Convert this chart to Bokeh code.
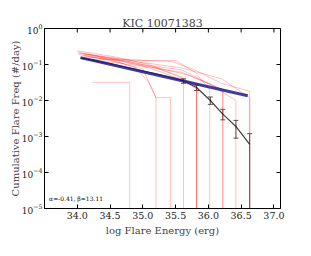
import math
from bokeh.plotting import figure
from bokeh.layouts import column
from bokeh.models import Range1d, FixedTicker, NumeralTickFormatter, Label, Whisker, ColumnDataSource, Spacer
from bokeh.embed import file_html
from bokeh.resources import INLINE

# ---- data ----
title_text = "KIC 10071383"
x_ticks = [34.0, 34.5, 35.0, 35.5, 36.0, 36.5, 37.0]
y_ticks = [1e-5, 1e-4, 1e-3, 1e-2, 1e-1, 1.0]
x_lim = [33.5, 37.1]
y_floor = 1e-5
y_top = 1.0

# individual-quarter cumulative FFDs (red), each drops to the floor at its last energy
red_x = [
    [34.02, 34.3, 34.6, 34.9, 35.1, 35.2],
    [34.23, 34.8],
    [34.02, 34.5, 35.0, 35.2, 35.42],
    [34.05, 34.5, 35.0, 35.3, 35.62],
    [34.0, 34.6, 35.1, 35.5, 35.82],
    [34.1, 34.6, 35.2, 35.6, 35.82],
    [34.1, 34.5, 35.0, 35.6, 35.82],
    [34.0, 34.7, 35.0, 35.5, 35.8, 36.02],
    [34.1, 34.6, 35.0, 35.6, 36.0, 36.22],
    [34.2, 34.8, 35.3, 35.7, 36.22],
    [34.05, 35.0, 35.6, 36.0, 36.42],
    [34.1, 34.9, 35.6, 36.2, 36.63],
    [34.23, 35.0, 35.45, 35.8, 36.2, 36.63],
]
red_y = [
    [0.22, 0.17, 0.12, 0.08, 0.03, 0.012],
    [0.032, 0.032],
    [0.19, 0.13, 0.075, 0.012, 0.012],
    [0.20, 0.15, 0.09, 0.06, 0.035],
    [0.24, 0.16, 0.10, 0.05, 0.025],
    [0.17, 0.13, 0.08, 0.045, 0.02],
    [0.15, 0.11, 0.065, 0.04, 0.03],
    [0.21, 0.14, 0.13, 0.13, 0.06, 0.02],
    [0.18, 0.14, 0.10, 0.07, 0.03, 0.02],
    [0.16, 0.12, 0.075, 0.05, 0.02],
    [0.15, 0.09, 0.06, 0.03, 0.01],
    [0.20, 0.12, 0.08, 0.04, 0.012],
    [0.14, 0.13, 0.12, 0.07, 0.03, 0.018],
]

# combined cumulative FFD (black) with error bars
all_x = [34.05, 34.4, 34.8, 35.2, 35.4, 35.62, 35.82, 36.03, 36.22, 36.42, 36.63]
all_y = [0.15, 0.115, 0.08, 0.055, 0.045, 0.035, 0.023, 0.010, 0.0042, 0.0019, 0.0006]
err_x = [35.62, 35.82, 36.03, 36.22, 36.42, 36.63]
err_lo = [0.030, 0.019, 0.0078, 0.0029, 0.0009, 1e-5]
err_hi = [0.040, 0.027, 0.0125, 0.0057, 0.0028, 0.0012]

# power-law fit (blue) end points
fit_x = [34.05, 36.6]
fit_y = [0.155, 0.0135]
fit_text = "\u03b1=-0.41, \u03b2=13.11"

SERIF = "DejaVu Serif"

p = figure(width=295, height=227, output_backend="svg", toolbar_location=None,
           y_axis_type="log", x_range=Range1d(*x_lim), y_range=Range1d(y_floor, y_top),
           min_border_left=44, min_border_top=12, min_border_right=15, min_border_bottom=35)
p.background_fill_color = "white"
p.border_fill_color = "white"
p.outline_line_color = "black"
p.outline_line_width = 1
p.grid.visible = False

p.title.text = title_text
p.title.text_font = SERIF
p.title.text_font_size = "11px"
p.title.text_font_style = "normal"
p.title.align = "center"
p.title.standoff = -3

for ax in [p.xaxis[0], p.yaxis[0]]:
    ax.major_label_text_font = SERIF
    ax.axis_label_text_font = SERIF
    ax.axis_label_text_font_size = "10px"
    ax.axis_label_text_font_style = "normal"
    ax.major_tick_in = 4
    ax.major_tick_out = 0
    ax.minor_tick_line_color = None
    ax.axis_line_color = "black"
    ax.major_label_text_color = "#222222"

p.xaxis[0].major_label_text_font_size = "9.5px"
p.yaxis[0].major_label_text_font_size = "9px"
p.xaxis[0].ticker = FixedTicker(ticks=x_ticks)
p.xaxis[0].formatter = NumeralTickFormatter(format="0.0")
p.xaxis[0].axis_label = "log Flare Energy (erg)"
p.xaxis[0].axis_label_standoff = 3
p.xaxis[0].major_label_standoff = 3
p.yaxis[0].ticker = FixedTicker(ticks=y_ticks)
p.yaxis[0].axis_label = "Cumulative Flare Freq (#/day)"
p.yaxis[0].axis_label_standoff = -2
p.yaxis[0].major_label_standoff = 2

# inward ticks on the top and right frame edges (half of each dash is clipped by the frame)
p.scatter(x_ticks, [y_top] * len(x_ticks), marker="dash", angle=math.pi / 2, size=8,
          line_color="black", line_width=1)
p.scatter([x_lim[1]] * len(y_ticks), y_ticks, marker="dash", size=8,
          line_color="black", line_width=1)

# red lines
for xs, ys in zip(red_x, red_y):
    p.line(xs + [xs[-1]], ys + [y_floor], line_color="red", line_alpha=0.25, line_width=1)

# black combined
p.line(all_x, all_y, line_color="black", line_alpha=0.75, line_width=1.2)
src = ColumnDataSource(dict(x=err_x, lo=err_lo, hi=err_hi))
w = Whisker(base="x", lower="lo", upper="hi", source=src, line_color="#555555", line_width=1)
w.upper_head.size = 5
w.lower_head.size = 5
w.upper_head.line_color = "#555555"
w.lower_head.line_color = "#555555"
p.add_layout(w)

# fit
p.line(fit_x, fit_y, line_color="#1c1c8a", line_alpha=0.85, line_width=3)

p.add_layout(Label(x=33.57, y=1.5e-5, text=fit_text, text_font=SERIF, text_font_size="6px",
                   text_color="black"))

layout = column(Spacer(height=16, width=295), p, spacing=0)
open("out.html", "w").write(file_html(layout, INLINE))
